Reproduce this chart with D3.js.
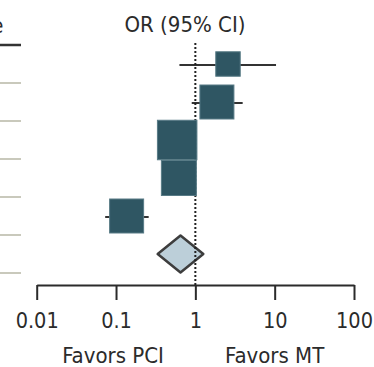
<!DOCTYPE html>
<html><head><meta charset="utf-8">
<script src="https://cdn.jsdelivr.net/npm/d3@7"></script>
<style>html,body{margin:0;padding:0;background:#fff;}svg{display:block;}</style>
</head><body>
<script>
// ---- data ----
const studies = ["Study 1", "Study 2", "Study 3", "Study 4", "Study 5"];
const orValues = [2.58, 1.87, 0.59, 0.62, 0.136];
const ciLower = [0.63, 0.90, 0.45, 0.48, 0.073];
const ciUpper = [10.4, 3.95, 0.78, 0.80, 0.258];
const weights = [10.5, 20.3, 27.4, 21.5, 20.3];
const pooled = {or: 0.65, lo: 0.335, hi: 1.26};
const tickValues = [0.01, 0.1, 1, 10, 100];
const tickLabels = ["0.01", "0.1", "1", "10", "100"];
const title = "OR (95% CI)";
const favorLabels = ["Favors PCI", "Favors MT"];
const favorAt = [0.1, 10];

const W = 374, H = 367;
const svg = d3.select("body").append("svg").attr("width", W).attr("height", H);
const font = "'DejaVu Sans Condensed', 'DejaVu Sans', sans-serif";
const ink = "#2b2b2b";

const x = d3.scaleLog().domain([0.01, 100]).range([36.7, 354]);
const y = d3.scaleLinear().domain([0, 5]).range([64, 254]);
const size = d3.scaleSqrt().domain([0, d3.max(weights)]).range([0, 39.5]);

// left table fragment
svg.append("text").attr("x", 3.5).attr("y", 33).attr("text-anchor", "end")
  .attr("font-family", font).attr("font-stretch", "condensed").attr("font-size", 22).attr("fill", ink).text("Estimate");
svg.append("line").attr("x1", 0).attr("x2", 21).attr("y1", y(0) - 19).attr("y2", y(0) - 19)
  .attr("stroke", "#333").attr("stroke-width", 2.5);
svg.selectAll("line.sep").data(d3.range(6)).join("line").attr("class", "sep")
  .attr("x1", 0).attr("x2", 21).attr("y1", d => y(d) + 19).attr("y2", d => y(d) + 19)
  .attr("stroke", "#c9c9bc").attr("stroke-width", 2);

// title
svg.append("text").attr("x", 185).attr("y", 32).attr("text-anchor", "middle")
  .attr("font-family", font).attr("font-stretch", "condensed").attr("font-size", 22).attr("fill", ink).text(title);

// axis
const axisY = 285;
const axis = d3.axisBottom(x).tickValues(tickValues)
  .tickFormat((d, i) => tickLabels[i]).tickSize(15).tickSizeOuter(0).tickPadding(12.5);
const ag = svg.append("g").attr("transform", `translate(0,${axisY})`).call(axis);
ag.select(".domain").attr("stroke", ink).attr("stroke-width", 2);
ag.selectAll(".tick line").attr("stroke", ink).attr("stroke-width", 2);
ag.selectAll(".tick text").attr("font-family", font).attr("font-stretch", "condensed")
  .attr("font-size", 21.5).attr("fill", ink);

// whiskers
svg.selectAll("line.ci").data(studies).join("line").attr("class", "ci")
  .attr("x1", (d, i) => x(ciLower[i])).attr("x2", (d, i) => x(ciUpper[i]))
  .attr("y1", (d, i) => y(i) + 1).attr("y2", (d, i) => y(i) + 1)
  .attr("stroke", "#333").attr("stroke-width", 2.2);

// pooled diamond
const dh = 18.5;
svg.append("path")
  .attr("d", `M${x(pooled.lo)},${y(5)} L${x(pooled.or)},${y(5) - dh} L${x(pooled.hi)},${y(5)} L${x(pooled.or)},${y(5) + dh} Z`)
  .attr("fill", "#bccfd9").attr("stroke", "#3d3d3d").attr("stroke-width", 2.5).attr("stroke-linejoin", "round");

// reference line at OR = 1
svg.append("line").attr("x1", x(1)).attr("x2", x(1)).attr("y1", 43).attr("y2", axisY)
  .attr("stroke", "#222").attr("stroke-width", 2).attr("stroke-dasharray", "2,2");

// boxes
svg.selectAll("rect.box").data(studies).join("rect").attr("class", "box")
  .attr("x", (d, i) => x(orValues[i]) - size(weights[i]) / 2)
  .attr("y", (d, i) => y(i) - size(weights[i]) / 2)
  .attr("width", (d, i) => size(weights[i]))
  .attr("height", (d, i) => size(weights[i]))
  .attr("fill", "#2f5663").attr("stroke", "#587b86").attr("stroke-width", 1);

// favors labels
svg.selectAll("text.fav").data(favorLabels).join("text").attr("class", "fav")
  .attr("x", (d, i) => x(favorAt[i]) - (i === 0 ? 3 : 0)).attr("y", 363).attr("text-anchor", "middle")
  .attr("font-family", font).attr("font-stretch", "condensed").attr("font-size", 22).attr("fill", ink).text(d => d);
</script>
</body></html>
